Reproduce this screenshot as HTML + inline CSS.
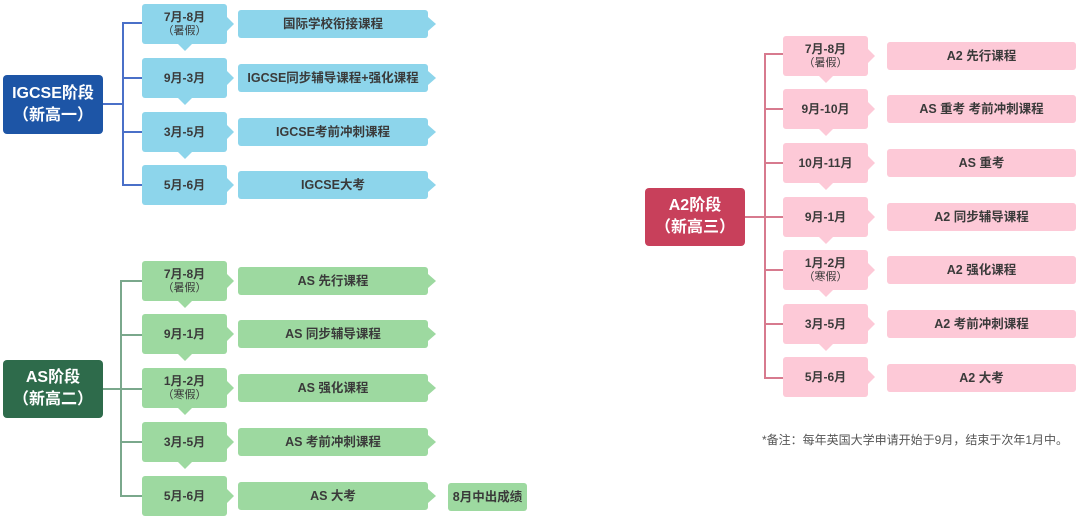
<!DOCTYPE html>
<html><head><meta charset="utf-8"><style>
body{margin:0;width:1080px;height:522px;background:#fff;position:relative;overflow:hidden;font-family:"Liberation Sans","Noto Sans CJK SC",sans-serif;font-weight:bold;color:#3a3a3a}
div{position:absolute;box-sizing:border-box}
.r{width:100px;border-radius:4px;color:#fff;font-size:16px;line-height:22px;text-align:center;display:flex;align-items:center;justify-content:center}
.d{width:85px;height:40px;border-radius:3px;font-size:12px;line-height:14px;text-align:center;display:flex;align-items:center;justify-content:center;flex-direction:column}
.d::after{content:"";position:absolute;right:-7px;top:13px;border-top:7px solid transparent;border-bottom:7px solid transparent;border-left:7px solid var(--c)}
.dn::before{content:"";position:absolute;bottom:-7px;left:36px;border-left:7px solid transparent;border-right:7px solid transparent;border-top:7px solid var(--c)}
.c{height:28px;border-radius:3px;font-size:12.5px;line-height:28px;text-align:center}
.ca::after{content:"";position:absolute;right:-8px;top:7px;border-top:7px solid transparent;border-bottom:7px solid transparent;border-left:8px solid var(--c)}
.b{--c:#8dd5eb;background:#8dd5eb}
.g{--c:#9dd9a0;background:#9dd9a0}
.p{--c:#fdc9d7;background:#fdc9d7}
.l{background:var(--c)}
.n{font-weight:normal;font-size:11px}
</style></head><body>
<!-- IGCSE -->
<div class="r" style="left:3px;top:75px;height:59px;background:#1d55a6">IGCSE阶段<br>（新高一）</div>
<div style="left:103px;top:103px;width:20px;height:2px;background:#4a70c8"></div>
<div style="left:122px;top:22px;width:2px;height:163px;background:#4a70c8"></div>
<div style="left:122px;top:22px;width:20px;height:2px;background:#4a70c8"></div>
<div style="left:122px;top:77px;width:20px;height:2px;background:#4a70c8"></div>
<div style="left:122px;top:131px;width:20px;height:2px;background:#4a70c8"></div>
<div style="left:122px;top:184px;width:20px;height:2px;background:#4a70c8"></div>
<div class="d dn b" style="left:142px;top:4px">7月-8月<span class="n">（暑假）</span></div>
<div class="d dn b" style="left:142px;top:58px">9月-3月</div>
<div class="d dn b" style="left:142px;top:112px">3月-5月</div>
<div class="d b" style="left:142px;top:165px">5月-6月</div>
<div class="c ca b" style="left:238px;top:10px;width:190px">国际学校衔接课程</div>
<div class="c ca b" style="left:238px;top:64px;width:190px">IGCSE同步辅导课程+强化课程</div>
<div class="c ca b" style="left:238px;top:118px;width:190px">IGCSE考前冲刺课程</div>
<div class="c ca b" style="left:238px;top:171px;width:190px">IGCSE大考</div>
<!-- AS -->
<div class="r" style="left:3px;top:360px;height:58px;background:#2e6b4b">AS阶段<br>（新高二）</div>
<div style="left:103px;top:388px;width:18px;height:2px;background:#7aa88c"></div>
<div style="left:120px;top:280px;width:2px;height:217px;background:#7aa88c"></div>
<div style="left:120px;top:280px;width:22px;height:2px;background:#7aa88c"></div>
<div style="left:120px;top:334px;width:22px;height:2px;background:#7aa88c"></div>
<div style="left:120px;top:388px;width:22px;height:2px;background:#7aa88c"></div>
<div style="left:120px;top:441px;width:22px;height:2px;background:#7aa88c"></div>
<div style="left:120px;top:495px;width:22px;height:2px;background:#7aa88c"></div>
<div class="d dn g" style="left:142px;top:261px">7月-8月<span class="n">（暑假）</span></div>
<div class="d dn g" style="left:142px;top:314px">9月-1月</div>
<div class="d dn g" style="left:142px;top:368px">1月-2月<span class="n">（寒假）</span></div>
<div class="d dn g" style="left:142px;top:422px">3月-5月</div>
<div class="d g" style="left:142px;top:476px">5月-6月</div>
<div class="c ca g" style="left:238px;top:267px;width:190px">AS 先行课程</div>
<div class="c ca g" style="left:238px;top:320px;width:190px">AS 同步辅导课程</div>
<div class="c ca g" style="left:238px;top:374px;width:190px">AS 强化课程</div>
<div class="c ca g" style="left:238px;top:428px;width:190px">AS 考前冲刺课程</div>
<div class="c ca g" style="left:238px;top:482px;width:190px">AS 大考</div>
<div class="c g" style="left:448px;top:483px;width:79px">8月中出成绩</div>
<!-- A2 -->
<div class="r" style="left:645px;top:188px;height:58px;background:#c8405b">A2阶段<br>（新高三）</div>
<div style="left:745px;top:216px;width:20px;height:2px;background:#d77a8e"></div>
<div style="left:764px;top:53px;width:2px;height:326px;background:#d77a8e"></div>
<div style="left:764px;top:53px;width:19px;height:2px;background:#d77a8e"></div>
<div style="left:764px;top:108px;width:19px;height:2px;background:#d77a8e"></div>
<div style="left:764px;top:162px;width:19px;height:2px;background:#d77a8e"></div>
<div style="left:764px;top:216px;width:19px;height:2px;background:#d77a8e"></div>
<div style="left:764px;top:269px;width:19px;height:2px;background:#d77a8e"></div>
<div style="left:764px;top:323px;width:19px;height:2px;background:#d77a8e"></div>
<div style="left:764px;top:377px;width:19px;height:2px;background:#d77a8e"></div>
<div class="d dn p" style="left:783px;top:36px">7月-8月<span class="n">（暑假）</span></div>
<div class="d dn p" style="left:783px;top:89px">9月-10月</div>
<div class="d dn p" style="left:783px;top:143px">10月-11月</div>
<div class="d dn p" style="left:783px;top:197px">9月-1月</div>
<div class="d dn p" style="left:783px;top:250px">1月-2月<span class="n">（寒假）</span></div>
<div class="d dn p" style="left:783px;top:304px">3月-5月</div>
<div class="d p" style="left:783px;top:357px">5月-6月</div>
<div class="c p" style="left:887px;top:42px;width:189px">A2 先行课程</div>
<div class="c p" style="left:887px;top:95px;width:189px">AS 重考 考前冲刺课程</div>
<div class="c p" style="left:887px;top:149px;width:189px">AS 重考</div>
<div class="c p" style="left:887px;top:203px;width:189px">A2 同步辅导课程</div>
<div class="c p" style="left:887px;top:256px;width:189px">A2 强化课程</div>
<div class="c p" style="left:887px;top:310px;width:189px">A2 考前冲刺课程</div>
<div class="c p" style="left:887px;top:364px;width:189px">A2 大考</div>
<div style="left:762px;top:431px;width:320px;font-size:12px;font-weight:normal;color:#555;white-space:nowrap">*备注：每年英国大学申请开始于9月，结束于次年1月中。</div>
</body></html>
